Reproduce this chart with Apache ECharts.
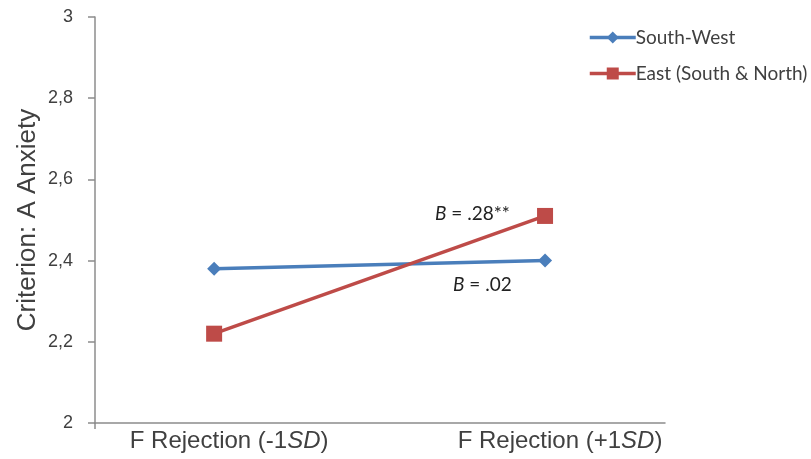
<!DOCTYPE html>
<html>
<head>
<meta charset="utf-8">
<script src="https://cdn.jsdelivr.net/npm/echarts@6/dist/echarts.min.js"></script>
<style>
  html, body { margin: 0; padding: 0; background: #fff; }
  #chart { width: 811px; height: 459px; }
</style>
</head>
<body>
<div id="chart"></div>
<script>
var categories = ['F Rejection (-1SD)', 'F Rejection (+1SD)'];
var southWest = [2.38, 2.40];
var east = [2.22, 2.51];

(function () {
  var myChart = echarts.init(document.getElementById('chart'));

  function pts(arr) {
    return arr.map(function (v, i) { return [i, v]; });
  }

  var option = {
    animation: false,
    grid: {
      left: 95,
      right: 146,
      top: 17,
      bottom: 36
    },
    legend: {
      orient: 'vertical',
      left: 583,
      top: 23,
      itemGap: 17,
      itemWidth: 46,
      itemHeight: 15,
      lineStyle: { width: 3.5 },
      textStyle: {
        fontFamily: 'Lato',
        fontSize: 19,
        color: '#404040',
        padding: [0, 0, 0, -5]
      },
      data: ['South-West', 'East (South & North)']
    },
    xAxis: {
      type: 'value',
      min: -0.36,
      max: 1.3625,
      splitLine: { show: false },
      axisLine: {
        onZero: false,
        lineStyle: { color: '#8c8c8c', width: 1.5 }
      },
      axisTick: {
        show: true,
        customValues: [-0.36],
        length: 6,
        lineStyle: { color: '#8c8c8c', width: 1.5 }
      },
      axisLabel: {
        customValues: [0, 1],
        margin: 6,
        padding: [0, 0, 0, 30],
        color: '#404040',
        fontFamily: 'Liberation Sans',
        fontSize: 24,
        formatter: function (v) {
          return categories[Math.round(v)].replace('SD', '{i|SD}');
        },
        rich: {
          i: {
            fontStyle: 'italic',
            fontFamily: 'Liberation Sans',
            fontSize: 24,
            color: '#404040'
          }
        }
      }
    },
    yAxis: {
      type: 'value',
      min: 2,
      max: 3,
      interval: 0.2,
      name: 'Criterion: A Anxiety',
      nameLocation: 'middle',
      nameGap: 54,
      nameMoveOverlap: false,
      nameTextStyle: {
        fontFamily: 'Liberation Sans',
        fontSize: 26,
        color: '#404040'
      },
      splitLine: { show: false },
      axisLine: {
        show: true,
        onZero: false,
        lineStyle: { color: '#8c8c8c', width: 1.5 }
      },
      axisTick: {
        show: true,
        length: 7,
        lineStyle: { color: '#8c8c8c', width: 1.5 }
      },
      axisLabel: {
        margin: 22,
        color: '#404040',
        fontFamily: 'Liberation Sans',
        fontSize: 18,
        formatter: function (v) {
          return String(+v.toFixed(1)).replace('.', ',');
        }
      }
    },
    series: [
      {
        name: 'South-West',
        type: 'line',
        data: pts(southWest),
        symbol: 'diamond',
        symbolSize: 14,
        color: '#4a7ebb',
        lineStyle: { width: 3.5, color: '#4a7ebb' },
        itemStyle: { color: '#4a7ebb' }
      },
      {
        name: 'East (South & North)',
        type: 'line',
        data: pts(east),
        symbol: 'rect',
        symbolSize: 16,
        color: '#be4b48',
        lineStyle: { width: 3.5, color: '#be4b48' },
        itemStyle: { color: '#be4b48' }
      }
    ],
    graphic: [
      {
        type: 'text',
        left: 435,
        top: 204,
        style: {
          text: '{i|B} = .28**',
          fontFamily: 'Lato',
          fontSize: 19,
          fill: '#222',
          rich: { i: { fontStyle: 'italic', fontFamily: 'Lato', fontSize: 19 } }
        }
      },
      {
        type: 'text',
        left: 453,
        top: 275,
        style: {
          text: '{i|B} = .02',
          fontFamily: 'Lato',
          fontSize: 19,
          fill: '#222',
          rich: { i: { fontStyle: 'italic', fontFamily: 'Lato', fontSize: 19 } }
        }
      }
    ]
  };

  myChart.setOption(option);
})();
</script>
</body>
</html>
